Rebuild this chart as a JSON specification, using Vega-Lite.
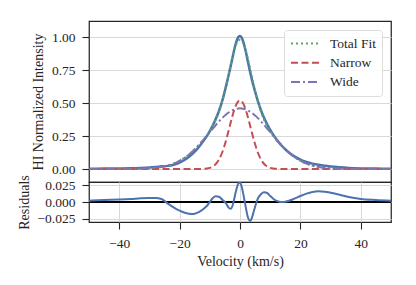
{
  "$schema": "https://vega.github.io/schema/vega-lite/v6.json",
  "padding": {"left": 16, "top": 20, "right": 5, "bottom": 5},
  "background": "white",
  "bounds": "flush",
  "spacing": 0,
  "config": {
    "font": "Liberation Serif",
    "view": {"stroke": "#262626", "strokeWidth": 1.25},
    "concat": {"spacing": 0},
    "axis": {
      "domain": false,
      "labelFont": "Liberation Serif",
      "labelFontSize": 13.5,
      "labelColor": "#262626",
      "labelOverlap": false,
      "titleFont": "Liberation Serif",
      "titleFontSize": 14,
      "titleFontWeight": "normal",
      "titleColor": "#262626",
      "tickColor": "#262626",
      "tickSize": 7,
      "tickWidth": 1.1,
      "labelPadding": 7,
      "gridColor": "#d9d9d9",
      "gridWidth": 1
    },
    "legend": {
      "labelFont": "Liberation Serif",
      "labelFontSize": 13.5,
      "labelColor": "#262626"
    }
  },
  "data": {
    "values": [
      {"v": -50, "obs": 0.002, "fit": 0, "narrow": 0, "wide": 0, "resid": 0.002},
      {"v": -45, "obs": 0.003, "fit": 0, "narrow": 0, "wide": 0, "resid": 0.003},
      {"v": -40, "obs": 0.0038, "fit": 0.0002, "narrow": 0, "wide": 0.0002, "resid": 0.0036},
      {"v": -36, "obs": 0.0052, "fit": 0.0007, "narrow": 0, "wide": 0.0007, "resid": 0.0045},
      {"v": -33, "obs": 0.0075, "fit": 0.002, "narrow": 0, "wide": 0.002, "resid": 0.0055},
      {"v": -30, "obs": 0.0111, "fit": 0.0051, "narrow": 0, "wide": 0.0051, "resid": 0.006},
      {"v": -28, "obs": 0.0151, "fit": 0.0091, "narrow": 0, "wide": 0.0091, "resid": 0.006},
      {"v": -26, "obs": 0.0202, "fit": 0.0157, "narrow": 0, "wide": 0.0157, "resid": 0.0045},
      {"v": -24, "obs": 0.0238, "fit": 0.0258, "narrow": 0, "wide": 0.0258, "resid": -0.002},
      {"v": -22, "obs": 0.0329, "fit": 0.0409, "narrow": 0, "wide": 0.0409, "resid": -0.008},
      {"v": -20, "obs": 0.0493, "fit": 0.0623, "narrow": 0, "wide": 0.0623, "resid": -0.013},
      {"v": -18, "obs": 0.0745, "fit": 0.091, "narrow": 0, "wide": 0.091, "resid": -0.0165},
      {"v": -16, "obs": 0.1099, "fit": 0.1279, "narrow": 0, "wide": 0.1279, "resid": -0.018},
      {"v": -15, "obs": 0.1319, "fit": 0.1494, "narrow": 0.0001, "wide": 0.1493, "resid": -0.0175},
      {"v": -14, "obs": 0.1568, "fit": 0.1728, "narrow": 0.0002, "wide": 0.1726, "resid": -0.016},
      {"v": -12, "obs": 0.2154, "fit": 0.2254, "narrow": 0.0015, "wide": 0.2239, "resid": -0.01},
      {"v": -11, "obs": 0.2489, "fit": 0.2549, "narrow": 0.0037, "wide": 0.2512, "resid": -0.006},
      {"v": -10, "obs": 0.2878, "fit": 0.2878, "narrow": 0.0088, "wide": 0.279, "resid": 0},
      {"v": -9, "obs": 0.3319, "fit": 0.3259, "narrow": 0.0191, "wide": 0.3068, "resid": 0.006},
      {"v": -8, "obs": 0.3807, "fit": 0.3722, "narrow": 0.0382, "wide": 0.334, "resid": 0.0085},
      {"v": -7, "obs": 0.4384, "fit": 0.4304, "narrow": 0.0704, "wide": 0.36, "resid": 0.008},
      {"v": -6, "obs": 0.5078, "fit": 0.5038, "narrow": 0.1196, "wide": 0.3842, "resid": 0.004},
      {"v": -5.5, "obs": 0.5487, "fit": 0.5467, "narrow": 0.1513, "wide": 0.3954, "resid": 0.002},
      {"v": -5, "obs": 0.5934, "fit": 0.5934, "narrow": 0.1874, "wide": 0.406, "resid": 0},
      {"v": -4.5, "obs": 0.6402, "fit": 0.6432, "narrow": 0.2275, "wide": 0.4157, "resid": -0.003},
      {"v": -4, "obs": 0.6882, "fit": 0.6952, "narrow": 0.2706, "wide": 0.4246, "resid": -0.007},
      {"v": -3.5, "obs": 0.7386, "fit": 0.7481, "narrow": 0.3154, "wide": 0.4327, "resid": -0.0095},
      {"v": -3, "obs": 0.7899, "fit": 0.7999, "narrow": 0.3601, "wide": 0.4398, "resid": -0.01},
      {"v": -2.5, "obs": 0.8427, "fit": 0.8487, "narrow": 0.4029, "wide": 0.4458, "resid": -0.006},
      {"v": -2, "obs": 0.8956, "fit": 0.8926, "narrow": 0.4417, "wide": 0.4509, "resid": 0.003},
      {"v": -1.5, "obs": 0.9423, "fit": 0.9293, "narrow": 0.4744, "wide": 0.4549, "resid": 0.013},
      {"v": -1, "obs": 0.9789, "fit": 0.9569, "narrow": 0.4992, "wide": 0.4577, "resid": 0.022},
      {"v": -0.5, "obs": 1.0021, "fit": 0.9741, "narrow": 0.5147, "wide": 0.4594, "resid": 0.028},
      {"v": 0, "obs": 1.009, "fit": 0.98, "narrow": 0.52, "wide": 0.46, "resid": 0.029},
      {"v": 0.5, "obs": 0.9981, "fit": 0.9741, "narrow": 0.5147, "wide": 0.4594, "resid": 0.024},
      {"v": 1, "obs": 0.9709, "fit": 0.9569, "narrow": 0.4992, "wide": 0.4577, "resid": 0.014},
      {"v": 1.5, "obs": 0.9313, "fit": 0.9293, "narrow": 0.4744, "wide": 0.4549, "resid": 0.002},
      {"v": 2, "obs": 0.8826, "fit": 0.8926, "narrow": 0.4417, "wide": 0.4509, "resid": -0.01},
      {"v": 2.5, "obs": 0.8277, "fit": 0.8487, "narrow": 0.4029, "wide": 0.4458, "resid": -0.021},
      {"v": 3, "obs": 0.7729, "fit": 0.7999, "narrow": 0.3601, "wide": 0.4398, "resid": -0.027},
      {"v": 3.5, "obs": 0.7201, "fit": 0.7481, "narrow": 0.3154, "wide": 0.4327, "resid": -0.028},
      {"v": 4, "obs": 0.6722, "fit": 0.6952, "narrow": 0.2706, "wide": 0.4246, "resid": -0.023},
      {"v": 4.5, "obs": 0.6282, "fit": 0.6432, "narrow": 0.2275, "wide": 0.4157, "resid": -0.015},
      {"v": 5, "obs": 0.5864, "fit": 0.5934, "narrow": 0.1874, "wide": 0.406, "resid": -0.007},
      {"v": 5.5, "obs": 0.5467, "fit": 0.5467, "narrow": 0.1513, "wide": 0.3954, "resid": 0},
      {"v": 6, "obs": 0.5098, "fit": 0.5038, "narrow": 0.1196, "wide": 0.3842, "resid": 0.006},
      {"v": 7, "obs": 0.4424, "fit": 0.4304, "narrow": 0.0704, "wide": 0.36, "resid": 0.012},
      {"v": 8, "obs": 0.3867, "fit": 0.3722, "narrow": 0.0382, "wide": 0.334, "resid": 0.0145},
      {"v": 9, "obs": 0.3394, "fit": 0.3259, "narrow": 0.0191, "wide": 0.3068, "resid": 0.0135},
      {"v": 10, "obs": 0.2968, "fit": 0.2878, "narrow": 0.0088, "wide": 0.279, "resid": 0.009},
      {"v": 11, "obs": 0.2599, "fit": 0.2549, "narrow": 0.0037, "wide": 0.2512, "resid": 0.005},
      {"v": 12, "obs": 0.2274, "fit": 0.2254, "narrow": 0.0015, "wide": 0.2239, "resid": 0.002},
      {"v": 13, "obs": 0.1986, "fit": 0.1981, "narrow": 0.0005, "wide": 0.1976, "resid": 0.0005},
      {"v": 14, "obs": 0.1728, "fit": 0.1728, "narrow": 0.0002, "wide": 0.1726, "resid": 0},
      {"v": 15, "obs": 0.1499, "fit": 0.1494, "narrow": 0.0001, "wide": 0.1493, "resid": 0.0005},
      {"v": 16, "obs": 0.1294, "fit": 0.1279, "narrow": 0, "wide": 0.1279, "resid": 0.0015},
      {"v": 18, "obs": 0.096, "fit": 0.091, "narrow": 0, "wide": 0.091, "resid": 0.005},
      {"v": 20, "obs": 0.0713, "fit": 0.0623, "narrow": 0, "wide": 0.0623, "resid": 0.009},
      {"v": 22, "obs": 0.0534, "fit": 0.0409, "narrow": 0, "wide": 0.0409, "resid": 0.0125},
      {"v": 24, "obs": 0.0408, "fit": 0.0258, "narrow": 0, "wide": 0.0258, "resid": 0.015},
      {"v": 26, "obs": 0.0317, "fit": 0.0157, "narrow": 0, "wide": 0.0157, "resid": 0.016},
      {"v": 28, "obs": 0.0246, "fit": 0.0091, "narrow": 0, "wide": 0.0091, "resid": 0.0155},
      {"v": 30, "obs": 0.0191, "fit": 0.0051, "narrow": 0, "wide": 0.0051, "resid": 0.014},
      {"v": 33, "obs": 0.013, "fit": 0.002, "narrow": 0, "wide": 0.002, "resid": 0.011},
      {"v": 36, "obs": 0.0082, "fit": 0.0007, "narrow": 0, "wide": 0.0007, "resid": 0.0075},
      {"v": 40, "obs": 0.0047, "fit": 0.0002, "narrow": 0, "wide": 0.0002, "resid": 0.0045},
      {"v": 45, "obs": 0.003, "fit": 0, "narrow": 0, "wide": 0, "resid": 0.003},
      {"v": 50, "obs": 0.002, "fit": 0, "narrow": 0, "wide": 0, "resid": 0.002}
    ]
  },
  "vconcat": [
    {
      "width": 302,
      "height": 161,
      "transform": [{"fold": ["obs", "fit", "narrow", "wide"], "as": ["comp", "val"]}],
      "encoding": {
        "x": {"field": "v", "type": "quantitative", "scale": {"domain": [-50, 50], "nice": false}, "axis": null},
        "y": {
          "field": "val", "type": "quantitative",
          "scale": {"domain": [-0.0985, 1.1227], "nice": false, "zero": false},
          "axis": {"title": "HI Normalized Intensity", "values": [0, 0.25, 0.5, 0.75, 1.0], "tickCount": 10, "labelOverlap": false, "format": ".2f", "grid": true, "titlePadding": 6}
        }
      },
      "layer": [
        {
          "transform": [{"filter": "datum.comp == 'obs'"}],
          "mark": {"type": "line", "color": "#4C72B0", "strokeWidth": 2.5, "interpolate": "monotone", "clip": true}
        },
        {
          "transform": [{"filter": "datum.comp != 'obs'"}],
          "mark": {"type": "line", "strokeWidth": 2, "interpolate": "monotone", "clip": true},
          "encoding": {
            "color": {
              "field": "comp", "type": "nominal",
              "scale": {"domain": ["fit", "narrow", "wide"], "range": ["#55A868", "#C44E52", "#8172B2"]},
              "legend": {
                "title": null, "orient": "top-right", "offset": 9, "padding": 6,
                "fillColor": "rgba(255,255,255,0.85)", "strokeColor": "#dddddd", "cornerRadius": 3,
                "symbolType": "stroke", "symbolSize": 784, "symbolStrokeWidth": 2, "labelOffset": 10,
                "clipHeight": 15, "rowPadding": 4.3,
                "labelExpr": "datum.value == 'fit' ? 'Total Fit' : datum.value == 'narrow' ? 'Narrow' : 'Wide'"
              }
            },
            "strokeDash": {
              "field": "comp", "type": "nominal",
              "scale": {"domain": ["fit", "narrow", "wide"], "range": [[2, 3], [7, 3.5], [9, 3, 2, 3]]},
              "legend": {
                "title": null, "orient": "top-right", "offset": 9, "padding": 6,
                "fillColor": "rgba(255,255,255,0.85)", "strokeColor": "#dddddd", "cornerRadius": 3,
                "symbolType": "stroke", "symbolSize": 784, "symbolStrokeWidth": 2, "labelOffset": 10,
                "clipHeight": 15, "rowPadding": 4.3,
                "labelExpr": "datum.value == 'fit' ? 'Total Fit' : datum.value == 'narrow' ? 'Narrow' : 'Wide'"
              }
            }
          }
        }
      ]
    },
    {
      "width": 302,
      "height": 40,
      "layer": [
        {
          "mark": {"type": "rule", "color": "black", "strokeWidth": 1.5},
          "encoding": {"y": {"datum": 0}}
        },
        {
          "mark": {"type": "line", "color": "#4C72B0", "strokeWidth": 2, "interpolate": "monotone", "clip": true},
          "encoding": {
            "x": {
              "field": "v", "type": "quantitative",
              "scale": {"domain": [-50, 50], "nice": false},
              "axis": {"title": "Velocity (km/s)", "values": [-40, -20, 0, 20, 40], "tickCount": 20, "grid": true, "titlePadding": 5}
            },
            "y": {
              "field": "resid", "type": "quantitative",
              "scale": {"domain": [-0.03, 0.03], "nice": false, "zero": false},
              "axis": {"title": "Residuals", "values": [-0.025, 0, 0.025], "tickCount": 20, "format": ".3f", "grid": true, "titlePadding": 6}
            }
          }
        }
      ]
    }
  ]
}
